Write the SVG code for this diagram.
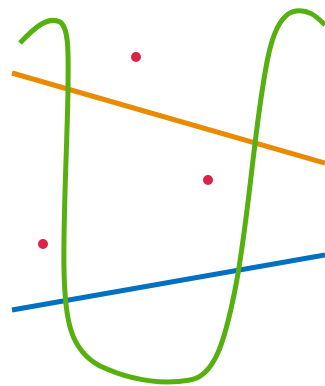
<svg xmlns="http://www.w3.org/2000/svg" width="325" height="386" viewBox="0 0 325 386">
<style>
.ln{fill:none;stroke-width:5;stroke-linecap:butt}
.dot{fill:#dc2245}
</style>
<rect width="325" height="386" fill="#fff"/>
<g id="lines">
<line class="ln" x1="12" y1="73" x2="325" y2="163" stroke="#e98a00"/>
<line class="ln" x1="12" y1="310" x2="325" y2="255" stroke="#0070c0"/>
<path id="curve" class="ln" stroke="#55b010" d="M 20,43 C 35,27 48,16 60,22 C 70,28 68,60 68,90 C 67,150 63,220 64,270 C 65,320 70,350 100,366 C 130,380 160,385 190,380 C 215,376 225,340 235,290 C 245,240 250,180 258,120 C 266,60 272,20 292,12 C 308,7 318,18 325,25"/>
</g>
<g id="points">
<circle class="dot" cx="136" cy="57" r="5"/>
<circle class="dot" cx="208" cy="180" r="5"/>
<circle class="dot" cx="43" cy="244" r="5"/>
</g>
</svg>
